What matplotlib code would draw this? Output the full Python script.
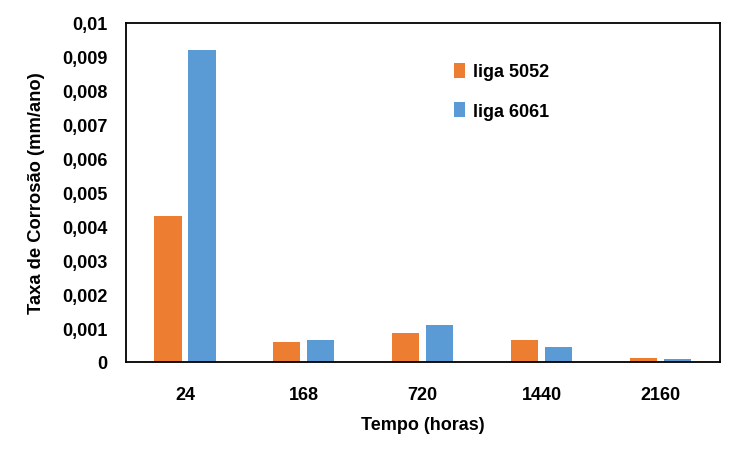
import matplotlib.pyplot as plt
import numpy as np

# -----------------------
# Data
# -----------------------
tempos = ["24", "168", "720", "1440", "2160"]
liga_5052 = [0.0043, 0.0006, 0.00086, 0.00065, 0.00011]
liga_6061 = [0.0092, 0.00065, 0.0011, 0.00045, 0.00008]

y_ticks = [0, 0.001, 0.002, 0.003, 0.004, 0.005, 0.006, 0.007, 0.008, 0.009, 0.01]
y_labels = ["0", "0,001", "0,002", "0,003", "0,004", "0,005", "0,006",
            "0,007", "0,008", "0,009", "0,01"]

plt.rcParams["font.family"] = ["Liberation Sans", "DejaVu Sans"]
plt.rcParams["font.weight"] = "bold"

fig = plt.figure(figsize=(7.52, 4.52), dpi=100)
ax = fig.add_axes([0.167, 0.197, 0.79, 0.751])

x = np.arange(len(tempos))
w = 0.23
ax.bar(x - 0.143, liga_5052, w, color="#ED7D31", label="liga 5052")
ax.bar(x + 0.143, liga_6061, w, color="#5B9BD5", label="liga 6061")

ax.set_xlim(-0.5, len(tempos) - 0.5)
ax.set_ylim(0, 0.01)
ax.set_xticks(x)
ax.set_xticklabels(tempos, fontsize=13, fontweight="bold")
ax.set_yticks(y_ticks)
ax.set_yticklabels(y_labels, fontsize=13, fontweight="bold")
ax.tick_params(axis="x", length=0, pad=17)
ax.tick_params(axis="y", length=0, pad=13)

for s in ax.spines.values():
    s.set_linewidth(1.3)
    s.set_color("black")

ax.set_xlabel("Tempo (horas)", fontsize=13, fontweight="bold", labelpad=10)
ax.set_ylabel("Taxa de Corrosão (mm/ano)", fontsize=13.2, fontweight="bold", labelpad=12)

ax.legend(loc="upper left", bbox_to_anchor=(0.525, 0.93), frameon=False,
          handlelength=0.65, handleheight=0.9, handletextpad=0.4,
          labelspacing=1.2, prop={"weight": "bold", "size": 13})

plt.savefig("out.png", dpi=100)
plt.close()
